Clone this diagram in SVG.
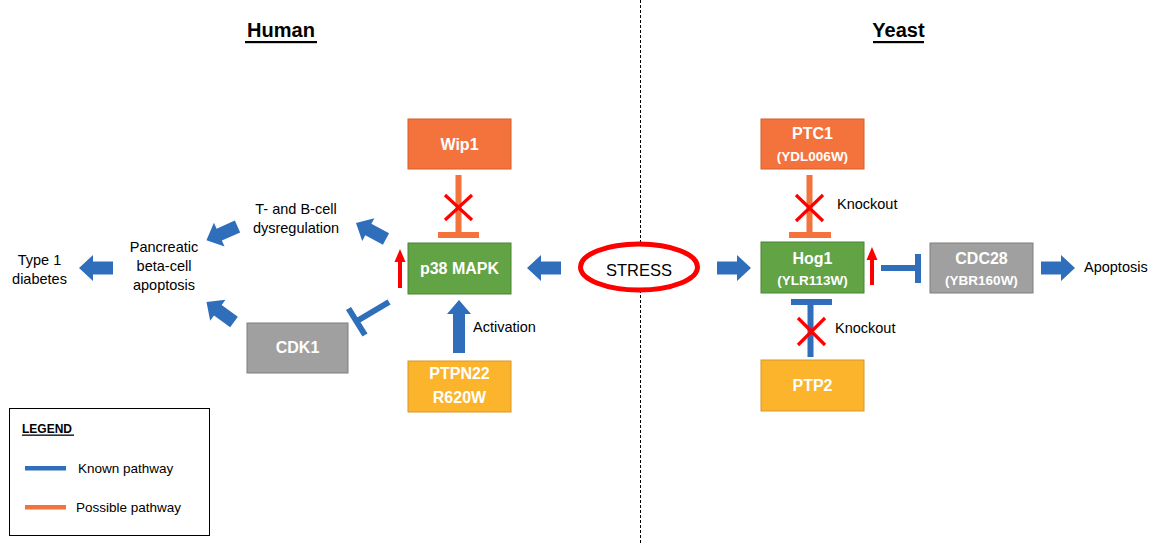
<svg xmlns="http://www.w3.org/2000/svg" width="1161" height="545" viewBox="0 0 1161 545">
<defs>
<style>
text{font-family:"Liberation Sans",Arial,sans-serif;}
.lbl{font-size:14.5px;fill:#000;}
.box-t{font-size:16px;font-weight:bold;fill:#fff;text-anchor:middle;}
.box-s{font-size:13.5px;font-weight:bold;fill:#fff;text-anchor:middle;}
.orange{fill:#F4733C;stroke:#D35F28;stroke-width:1;}
.green{fill:#62A345;stroke:#4B8434;stroke-width:1;}
.gray{fill:#A0A0A0;stroke:#7F7F7F;stroke-width:1;}
.yellow{fill:#FBB42C;stroke:#D9962A;stroke-width:1;}
.blk{fill:#2F6EBA;}
.inh-b{stroke:#2F6EBA;stroke-width:6;fill:none;}
.inh-o{stroke:#F4733C;stroke-width:6;fill:none;}
.xmark{stroke:#FF0000;stroke-width:3.2;}
.redarr{fill:#FF0000;}
.head{font-size:20px;font-weight:bold;text-anchor:middle;fill:#000;}
</style>
<path id="barrow" d="M0,-6.5 H20 V-13 L34,0 L20,13 V6.5 H0 Z"/>
</defs>
<rect width="1161" height="545" fill="#fff"/>

<!-- divider -->
<line x1="640.5" y1="0" x2="640.5" y2="545" stroke="#000" stroke-width="1" stroke-dasharray="3,2"/>

<!-- headings -->
<g id="heading-human">
<text class="head" x="281" y="37">Human</text>
<rect x="245" y="41" width="72" height="2.2" fill="#000"/>
</g>
<g id="heading-yeast">
<text class="head" x="898.5" y="37">Yeast</text>
<rect x="873" y="41" width="51" height="2.2" fill="#000"/>
</g>

<!-- connectors -->
<g id="connectors">
<use href="#barrow" class="blk" transform="translate(561,268) rotate(180)"/>
<use href="#barrow" class="blk" transform="translate(717,268)"/>
<use href="#barrow" class="blk" transform="translate(1041,268)"/>
<use href="#barrow" class="blk" transform="translate(113,268) rotate(180)"/>
<use href="#barrow" class="blk" transform="translate(386,239) rotate(208)"/>
<use href="#barrow" class="blk" transform="translate(237.5,226.5) rotate(156)"/>
<use href="#barrow" class="blk" transform="translate(234,322) rotate(216)"/>
<path class="blk" d="M453,353 V314 H447 L459,300 L471,314 H465 V353 Z"/>

<!-- inhibitions -->
<path class="inh-o" d="M458.5,175 V235 M438,235 H479"/>
<path class="inh-o" d="M809.5,175 V235 M789,235 H831"/>
<path class="inh-b" d="M810.5,357 V302 M791,302 H832"/>
<path class="inh-b" d="M881,268 H918 M918,254 V283"/>
<path class="inh-b" d="M389,302 L357,321 M348.5,308.5 L365,335"/>

<!-- red X marks -->
<path class="xmark" d="M445,195 L472,220 M472,195 L445,220"/>
<path class="xmark" d="M796,195 L823,221 M823,195 L796,221"/>
<path class="xmark" d="M798,318 L825,345 M825,318 L798,345"/>

<!-- red up arrows -->
<rect class="redarr" x="398" y="261" width="4" height="27"/>
<polygon class="redarr" points="394.5,262 400,249 405.5,262"/>
<rect class="redarr" x="870" y="259" width="4" height="26"/>
<polygon class="redarr" points="866.5,260 872,247 877.5,260"/>
</g>

<!-- Human side nodes -->
<g id="node-wip1">
<rect class="orange" x="408" y="119" width="103" height="50"/>
<text class="box-t" x="459.5" y="149.5">Wip1</text>
</g>
<g id="node-p38">
<rect class="green" x="408" y="243" width="103" height="51"/>
<text class="box-t" x="459.5" y="273.5">p38 MAPK</text>
</g>
<g id="node-ptpn22">
<rect class="yellow" x="408" y="361" width="103" height="51"/>
<text class="box-t" x="459.5" y="379">PTPN22</text>
<text class="box-t" x="459.5" y="403">R620W</text>
</g>
<g id="node-cdk1">
<rect class="gray" x="247" y="323" width="101" height="50"/>
<text class="box-t" x="297.5" y="353">CDK1</text>
</g>
<g id="node-tb">
<text class="lbl" x="296" y="214" text-anchor="middle">T- and B-cell</text>
<text class="lbl" x="296" y="233" text-anchor="middle">dysregulation</text>
</g>
<g id="node-pancreatic">
<text class="lbl" x="164" y="252" text-anchor="middle">Pancreatic</text>
<text class="lbl" x="164" y="271" text-anchor="middle">beta-cell</text>
<text class="lbl" x="164" y="289.5" text-anchor="middle">apoptosis</text>
</g>
<g id="node-t1d">
<text class="lbl" x="39.5" y="265" text-anchor="middle">Type 1</text>
<text class="lbl" x="39.5" y="283.5" text-anchor="middle">diabetes</text>
</g>
<g id="label-activation">
<text class="lbl" x="473" y="332">Activation</text>
</g>

<!-- STRESS -->
<g id="node-stress">
<ellipse cx="639" cy="267" rx="58.5" ry="23" fill="#fff" stroke="#FF0000" stroke-width="5"/>
<text x="639" y="276" font-size="16.5" text-anchor="middle" fill="#000">STRESS</text>
</g>

<!-- Yeast side nodes -->
<g id="node-ptc1">
<rect class="orange" x="761" y="119" width="103" height="50"/>
<text class="box-t" x="812.5" y="139">PTC1</text>
<text class="box-s" x="812.5" y="161">(YDL006W)</text>
</g>
<g id="node-hog1">
<rect class="green" x="761" y="242" width="103" height="51"/>
<text class="box-t" x="812.5" y="264">Hog1</text>
<text class="box-s" x="812.5" y="285">(YLR113W)</text>
</g>
<g id="node-ptp2">
<rect class="yellow" x="761" y="360" width="103" height="51"/>
<text class="box-t" x="812.5" y="391">PTP2</text>
</g>
<g id="node-cdc28">
<rect class="gray" x="930" y="243" width="103" height="50"/>
<text class="box-t" x="981.5" y="264">CDC28</text>
<text class="box-s" x="981.5" y="285">(YBR160W)</text>
</g>
<g id="node-apoptosis">
<text class="lbl" x="1084" y="272">Apoptosis</text>
</g>
<g id="label-knockout1">
<text class="lbl" x="837" y="209">Knockout</text>
</g>
<g id="label-knockout2">
<text class="lbl" x="835" y="333">Knockout</text>
</g>

<!-- Legend -->
<g id="legend">
<rect x="9.5" y="408.5" width="200" height="127" fill="#fff" stroke="#000" stroke-width="1"/>
<text x="22" y="433" font-size="12" font-weight="bold" fill="#000">LEGEND</text>
<rect x="22" y="434.5" width="52" height="1.3" fill="#000"/>
<rect x="25" y="466" width="41" height="4.5" fill="#2F6EBA"/>
<text x="78" y="473" font-size="13.5" fill="#000">Known pathway</text>
<rect x="25" y="505" width="41" height="4.5" fill="#F4733C"/>
<text x="76" y="512" font-size="13.5" fill="#000">Possible pathway</text>
</g>
</svg>
